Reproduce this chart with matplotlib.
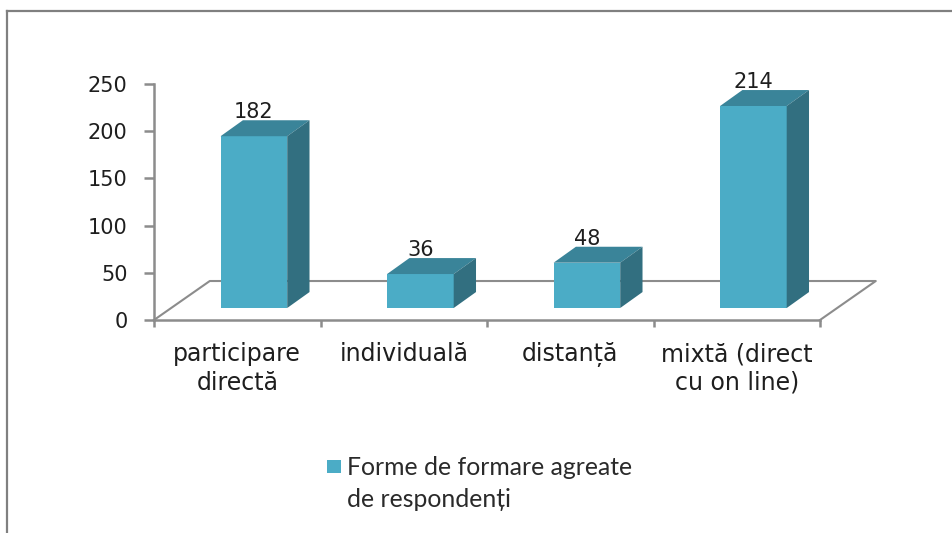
import numpy as np
import matplotlib
matplotlib.use('Agg')
import matplotlib.pyplot as plt
from matplotlib.patches import Polygon, Rectangle

#Data
categories = ['participare\ndirectă', 'individuală', 'distanță', 'mixtă (direct\ncu on line)']
values = [182, 36, 48, 214]
y_ticks = [0, 50, 100, 150, 200, 250]
series_name = 'Forme de formare agreate\nde respondenți'

#Colors
front_color = '#4BACC6'
top_color = '#3A8499'
side_color = '#326F80'
axis_color = '#8C8C8C'
text_color = '#1E1E1E'

#Fake 3D sizes, in axis units
bar_width = 0.4
bar_shift = 0.1
base_y = 12.7
depth_x = 0.134
depth_y = 16.9
floor_x = 0.335
floor_y = 41.3

W, H = 953, 533
fig = plt.figure(figsize=(W / 100, H / 100), dpi=100)
fig.patch.set_facecolor('white')

#Outer frame, only top and left are visible in the picture
fig.add_artist(plt.Line2D([7 / W, 7 / W], [0, 1 - 11 / H], color='#808080', lw=1.6))
fig.add_artist(plt.Line2D([7 / W, 1], [1 - 11 / H, 1 - 11 / H], color='#808080', lw=1.6))

ax = fig.add_axes([154 / W, 1 - 320 / H, 666 / W, 236 / H])
ax.set_xlim(-0.5, 3.5)
ax.set_ylim(0, 250)
ax.patch.set_alpha(0)

#Floor
ax.plot([-0.5, -0.5 + floor_x, 3.5 + floor_x, 3.5], [0, floor_y, floor_y, 0],
        color=axis_color, lw=1.5, clip_on=False, zorder=1)

x = np.arange(len(values)) + bar_shift
bars = ax.bar(x, values, bar_width, bottom=base_y, color=front_color, zorder=3)

for xi, v in zip(x, values):
    left = xi - bar_width / 2
    right = xi + bar_width / 2
    top = base_y + v
    ax.add_patch(Polygon([(left, top), (left + depth_x, top + depth_y),
                          (right + depth_x, top + depth_y), (right, top)],
                         closed=True, facecolor=top_color, edgecolor='none',
                         clip_on=False, zorder=3))
    ax.add_patch(Polygon([(right, base_y), (right + depth_x, base_y + depth_y),
                          (right + depth_x, top + depth_y), (right, top)],
                         closed=True, facecolor=side_color, edgecolor='none',
                         clip_on=False, zorder=3))
    ax.text(xi, top + depth_y - 2, str(v), ha='center', va='bottom', fontsize=15,
            color=text_color, family='DejaVu Sans', zorder=4)

#Axes
for name in ['top', 'right']:
    ax.spines[name].set_visible(False)
for name in ['left', 'bottom']:
    ax.spines[name].set_color(axis_color)
    ax.spines[name].set_linewidth(1.8)

ax.set_yticks(y_ticks)
ax.set_xticks(np.arange(-0.5, len(values)))
ax.set_xticklabels([])
ax.set_xticks(np.arange(len(values)), labels=categories, minor=True)
ax.tick_params(axis='x', which='major', length=5, width=1.8, color=axis_color)
ax.tick_params(axis='x', which='minor', length=0, pad=16, labelsize=17, labelcolor=text_color)
ax.tick_params(axis='y', length=7, width=1.8, color=axis_color, pad=12,
               labelsize=15, labelcolor=text_color)
for label in ax.get_xticklabels(minor=True):
    label.set_linespacing(1.25)

#Legend, marker sits on the first text line
fig.add_artist(Rectangle((327 / W, 1 - 473 / H), 14 / W, 13 / H, transform=fig.transFigure,
                         facecolor=front_color, edgecolor='none'))
fig.text(347 / W, 1 - 456 / H, series_name, ha='left', va='top', family='Lato', fontsize=17.8,
         color='#2A2A2A', linespacing=1.45)

fig.savefig('out.png', dpi=100)
